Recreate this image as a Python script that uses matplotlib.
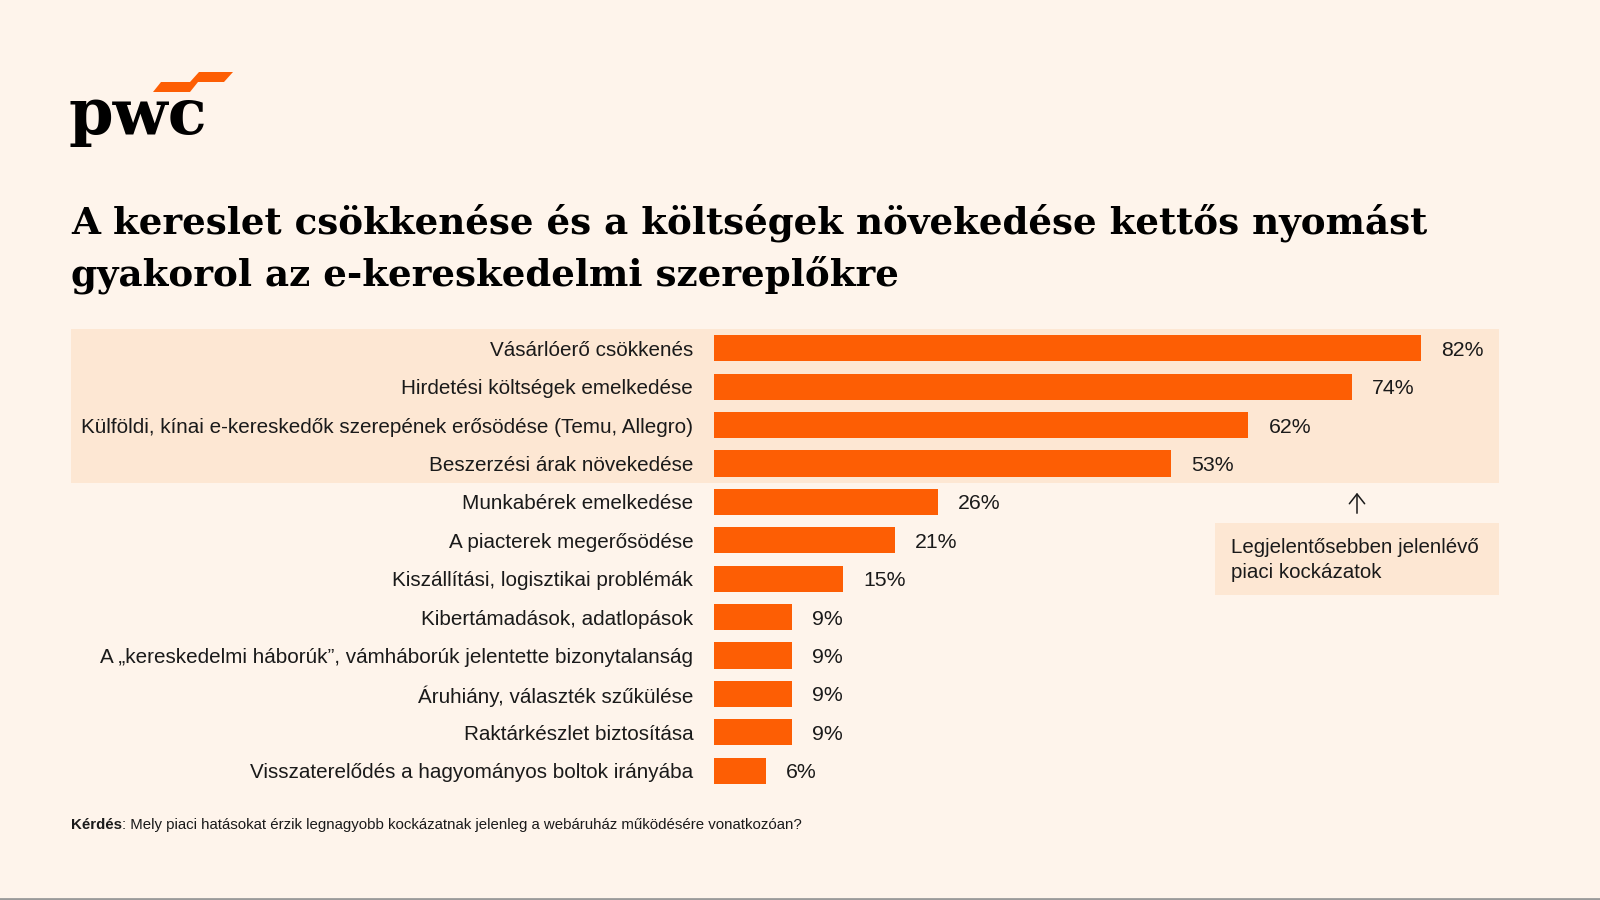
import matplotlib
matplotlib.use("Agg")
import matplotlib.pyplot as plt
from matplotlib import font_manager
from matplotlib.patches import Rectangle, Polygon, FancyArrowPatch

categories = [
    "Vásárlóerő csökkenés",
    "Hirdetési költségek emelkedése",
    "Külföldi, kínai e-kereskedők szerepének erősödése (Temu, Allegro)",
    "Beszerzési árak növekedése",
    "Munkabérek emelkedése",
    "A piacterek megerősödése",
    "Kiszállítási, logisztikai problémák",
    "Kibertámadások, adatlopások",
    "A \u201ekereskedelmi háborúk\u201d, vámháborúk jelentette bizonytalanság",
    "Áruhiány, választék szűkülése",
    "Raktárkészlet biztosítása",
    "Visszaterelődés a hagyományos boltok irányába",
]
values = [82, 74, 62, 53, 26, 21, 15, 9, 9, 9, 9, 6]
n_highlight = 4

title_lines = ["A kereslet csökkenése és a költségek növekedése kettős nyomást",
               "gyakorol az e-kereskedelmi szereplőkre"]
note = "Legjelentősebben jelenlévő\npiaci kockázatok"
q_bold = "Kérdés"
q_text = ": Mely piaci hatásokat érzik legnagyobb kockázatnak jelenleg a webáruház működésére vonatkozóan?"

BG = "#FEF4EB"
BAND = "#FDE7D3"
ORANGE = "#FD5E04"
INK = "#1a1a1a"
W, H = 1600, 900

plt.rcParams["font.family"] = ["Liberation Sans", "DejaVu Sans"]

# condensed serif for the title if it is installed
try:
    font_manager.findfont(font_manager.FontProperties(
        family="DejaVu Serif Condensed", weight="bold"),
        fallback_to_default=False)
    title_family, title_size = "DejaVu Serif Condensed", 29.5
except Exception:
    title_family, title_size = "DejaVu Serif", 26.8

fig = plt.figure(figsize=(16, 9), dpi=100, facecolor=BG)

def fx(px):
    return px / W

def fy(py):
    return 1 - py / H

# bar axes: 0..100 % starting at x=714, rows 38.4 px tall
ax_left, ax_w = 714, 862
ax_top, ax_bot = 329, 790
ax = fig.add_axes([fx(ax_left), fy(ax_bot), ax_w / W, (ax_bot - ax_top) / H])
ax.set_facecolor("none")
ax.set_xlim(0, 100)
ax.set_ylim(len(values) - 0.5, -0.5)

# highlighted band behind the top rows
ax.axhspan(-0.5, n_highlight - 0.5, xmin=(71 - ax_left) / ax_w,
           xmax=(1499 - ax_left) / ax_w, color=BAND, lw=0, zorder=0,
           clip_on=False)

y = range(len(values))
ax.barh(y, values, height=0.68, color=ORANGE, zorder=2)
for yi, v in zip(y, values):
    ax.annotate(f"{v}%", (v, yi), textcoords="offset points", xytext=(14.5, 0),
                ha="left", va="center_baseline", fontsize=15.3, color=INK)

ax.set_yticks(list(y))
ax.set_yticklabels(categories, fontsize=14.9, color=INK,
                   va="center_baseline")
ax.tick_params(axis="y", length=0, pad=15)
ax.set_xticks([])
for s in ax.spines.values():
    s.set_visible(False)

# logo
fig.text(fx(68), fy(134), "pwc", fontsize=46, fontweight="bold",
         family="DejaVu Serif", color="black", ha="left", va="baseline")
fig.patches.append(Polygon([(fx(153), fy(92)), (fx(190), fy(92)),
                            (fx(198), fy(82)), (fx(161), fy(82))],
                           closed=True, transform=fig.transFigure,
                           color=ORANGE, lw=0))
fig.patches.append(Polygon([(fx(190), fy(82)), (fx(224), fy(82)),
                            (fx(233), fy(72)), (fx(199), fy(72))],
                           closed=True, transform=fig.transFigure,
                           color=ORANGE, lw=0))

# title, one line at a time
for line, base in zip(title_lines, [233, 285]):
    fig.text(fx(71), fy(base), line, fontsize=title_size, fontweight="bold",
             family=title_family, color="black", ha="left", va="baseline")

# annotation arrow and box
fig.patches.append(FancyArrowPatch((fx(1357), fy(516)), (fx(1357), fy(490)),
                                   transform=fig.transFigure,
                                   arrowstyle="->,head_length=7,head_width=5.5",
                                   color=INK, lw=1.1, mutation_scale=1))
fig.patches.append(Rectangle((fx(1215), fy(595)), fx(1499) - fx(1215),
                             fy(523) - fy(595), transform=fig.transFigure,
                             color=BAND, lw=0))
fig.text(fx(1231), fy(560), note, fontsize=14.8, color=INK, ha="left",
         va="center", linespacing=1.35)

# footer question
t1 = fig.text(fx(71), fy(825), q_bold, fontsize=10.8, fontweight="bold",
              color=INK, ha="left", va="center")
fig.canvas.draw()
bb = t1.get_window_extent()
fig.text(bb.x1 / W, fy(825), q_text, fontsize=10.8, color=INK, ha="left",
         va="center")

# thin grey edge at the bottom
fig.add_artist(plt.Line2D([0, 1], [fy(899), fy(899)], transform=fig.transFigure,
                          color="#9a9a9a", lw=2))

fig.savefig("out.png", dpi=100, facecolor=BG)
